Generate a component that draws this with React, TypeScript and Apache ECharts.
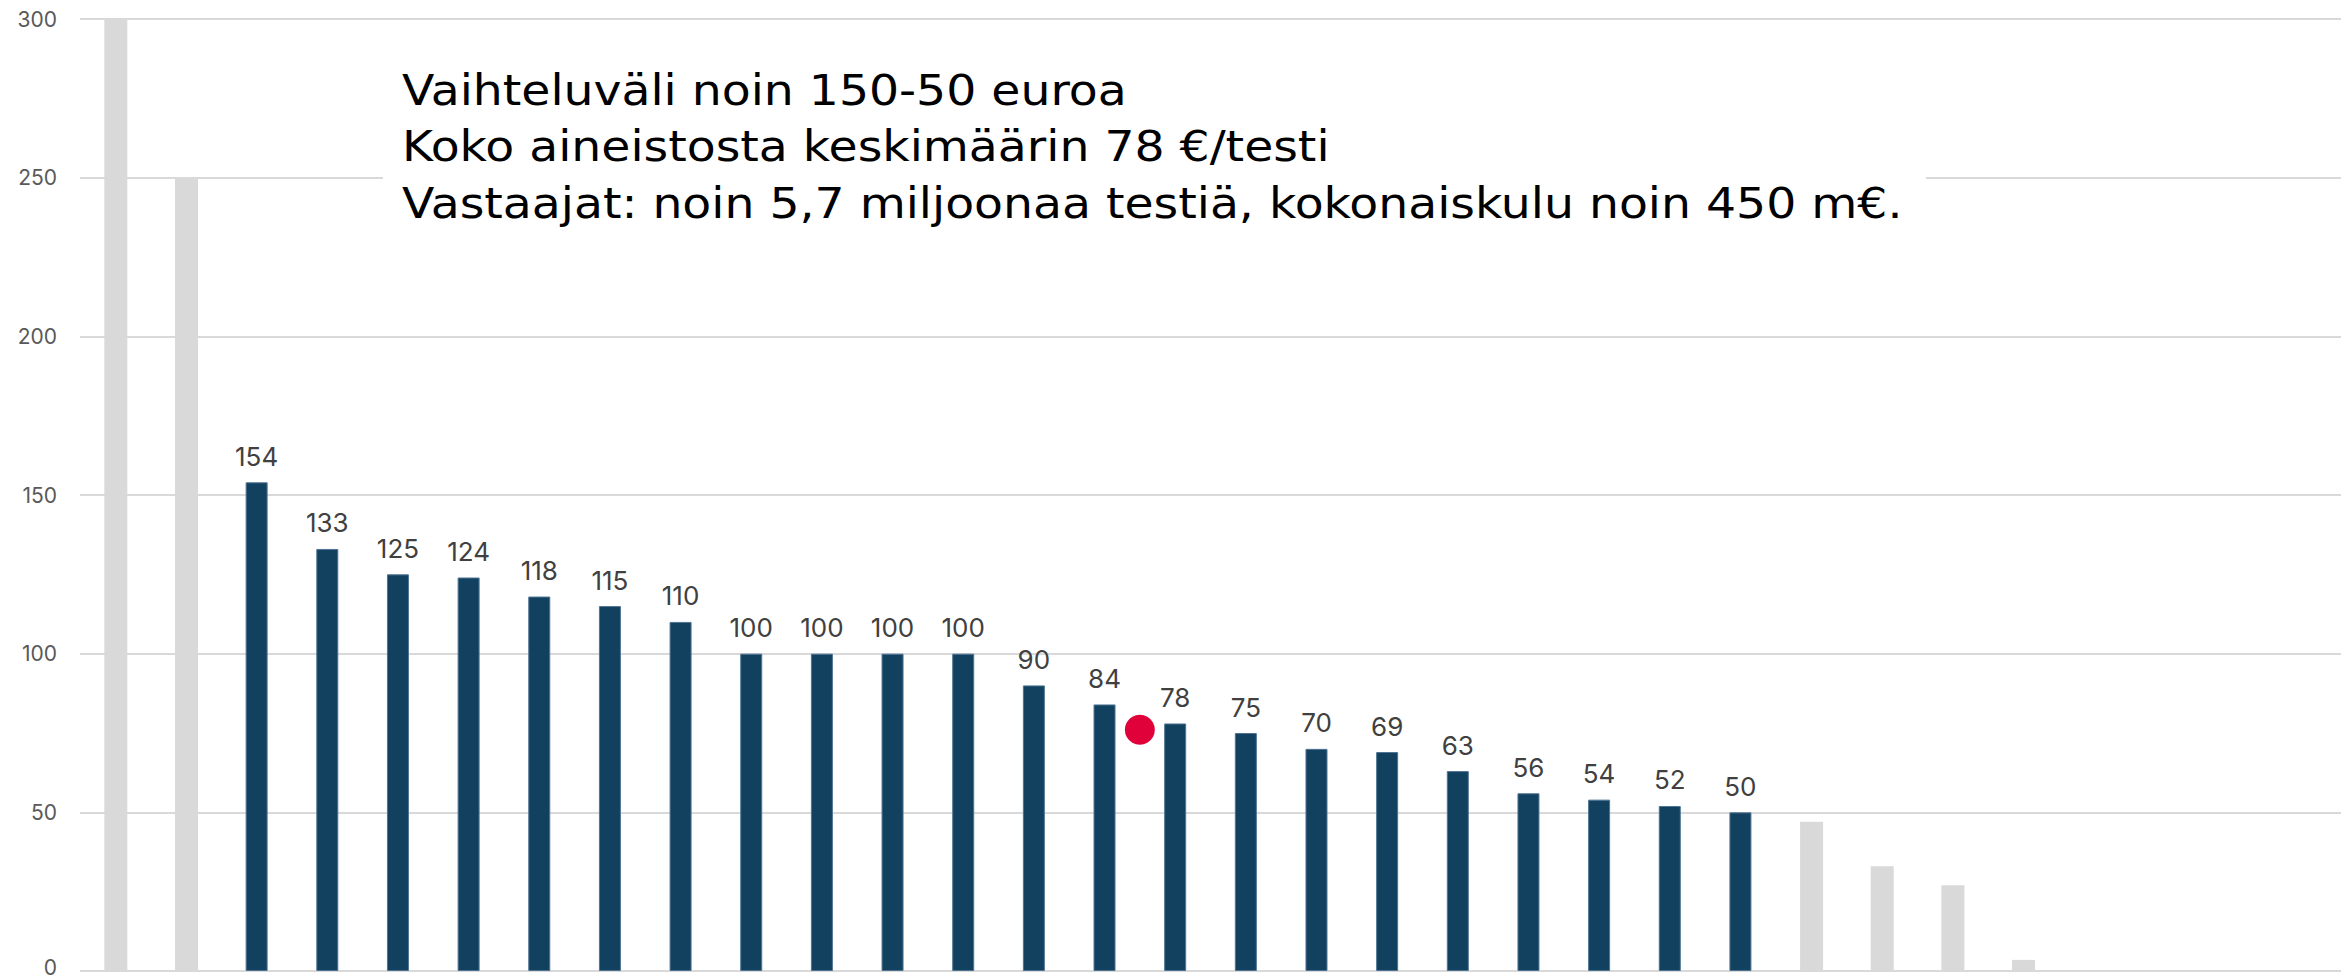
import React, { useEffect, useRef } from "react";
import * as echarts from "echarts";

const categories = [
  "c1", "c2", "c3", "c4", "c5", "c6", "c7", "c8", "c9", "c10", "c11", "c12", "c13", "c14", "c15", "c16",
  "c17", "c18", "c19", "c20", "c21", "c22", "c23", "c24", "c25", "c26", "c27", "c28", "c29", "c30", "c31", "c32",
];
// grey bars (outside the highlighted range)
const greyValues = [
  300, 250, null, null, null, null, null, null, null, null, null, null, null, null, null, null,
  null, null, null, null, null, null, null, null, 47, 33, 27, 3.5, null, null, null, null,
];
// highlighted bars with labels
const blueValues = [
  null, null, 154, 133, 125, 124, 118, 115, 110, 100, 100, 100, 100, 90, 84, 78,
  75, 70, 69, 63, 56, 54, 52, 50, null, null, null, null, null, null, null, null,
];
// average marker: [category position, value]
const averagePoint = [[14.5, 76]];
const yTicks = { min: 0, max: 300, interval: 50 };
const noteLines = [
  "Vaihteluväli noin 150-50 euroa",
  "Koko aineistosta keskimäärin 78 €/testi",
  "Vastaajat: noin 5,7 miljoonaa testiä, kokonaiskulu noin 450 m€.",
];

const FONT = "Inter, 'Noto Sans', sans-serif";
const NOTE_FONT = "'DejaVu Sans', 'Noto Sans', sans-serif";

export default function App() {
  const ref = useRef<HTMLDivElement>(null);
  useEffect(() => {
    if (!ref.current) return;
    const chart = echarts.init(ref.current, null, { renderer: "svg" });
    chart.setOption({
      animation: false,
      backgroundColor: "#ffffff",
      grid: {
        left: 80,
        right: 10,
        top: 19,
        bottom: 9,
        containLabel: false,
        outerBoundsMode: "none",
      },
      xAxis: [
        {
          type: "category",
          data: categories,
          axisLine: { show: false },
          axisTick: { show: false },
          axisLabel: { show: false },
          splitLine: { show: false },
        },
        {
          type: "value",
          min: -0.5,
          max: categories.length - 0.5,
          show: false,
        },
      ],
      yAxis: {
        type: "value",
        min: yTicks.min,
        max: yTicks.max,
        interval: yTicks.interval,
        axisLine: { show: false },
        axisTick: { show: false },
        axisLabel: {
          color: "#595959",
          fontSize: 21,
          fontFamily: FONT,
          margin: 23,
          formatter: (v: number) => (v === 0 ? "{z|0}" : String(v)),
          rich: {
            z: {
              color: "#595959",
              fontSize: 21,
              fontFamily: FONT,
              lineHeight: 14,
              padding: [0, 0, 8, 0],
            },
          },
        },
        splitLine: { lineStyle: { color: "#D9D9D9", width: 2 } },
      },
      series: [
        {
          type: "bar",
          data: greyValues,
          barWidth: 23,
          barGap: "-100%",
          itemStyle: { color: "#D9D9D9" },
        },
        {
          type: "bar",
          data: blueValues,
          barWidth: 22,
          barGap: "-100%",
          itemStyle: { color: "#12405F", borderColor: "#4F7493", borderWidth: 1 },
          label: {
            show: true,
            position: "top",
            distance: 13,
            color: "#404040",
            fontSize: 26,
            fontFamily: FONT,
          },
        },
        {
          type: "scatter",
          xAxisIndex: 1,
          data: averagePoint,
          symbol: "circle",
          symbolSize: 30,
          itemStyle: { color: "#E0003A", opacity: 1 },
          z: 5,
        },
      ],
      graphic: [
        {
          type: "rect",
          shape: { x: 383, y: 40, width: 1543, height: 200 },
          style: { fill: "#ffffff" },
          z: 10,
        },
        ...noteLines.map((t, i) => ({
          type: "text",
          x: 402,
          y: 90 + i * 56.5,
          scaleX: 1.1,
          z: 11,
          style: {
            text: t,
            fill: "#000000",
            fontSize: 43,
            fontFamily: NOTE_FONT,
            verticalAlign: "middle",
            align: "left",
          },
        })),
      ],
    });
    return () => chart.dispose();
  }, []);
  return (
    <div
      ref={ref}
      style={{ position: "absolute", left: 0, top: 0, width: 2351, height: 980 }}
    />
  );
}
